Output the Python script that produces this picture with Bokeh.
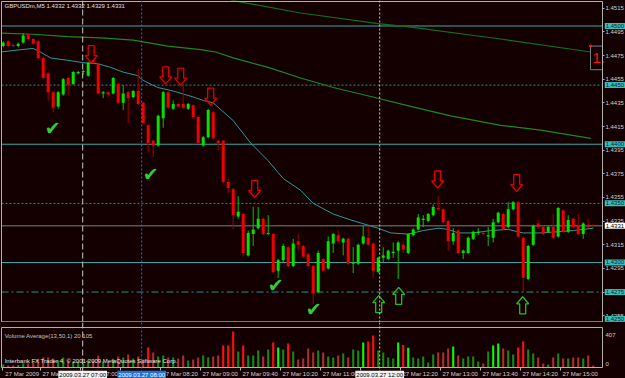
from bokeh.plotting import figure
from bokeh.layouts import column
from bokeh.models import Range1d, FixedTicker, PrintfTickFormatter, Label, Span, ColumnDataSource, LinearAxis
from bokeh.embed import file_html
from bokeh.resources import INLINE
from bokeh.core.properties import value

# ---------------- data ----------------
title_text = "GBPUSDm,M5  1.4332 1.4332 1.4329 1.4331"

opens = [1.4483, 1.4487, 1.4484, 1.4483, 1.4486, 1.4493, 1.4489, 1.4487, 1.4473, 1.4460,
         1.4444, 1.4432, 1.4442, 1.4456, 1.4451, 1.4460, 1.4461, 1.4458, 1.4471, 1.4468,
         1.4443, 1.4444, 1.4443, 1.4451, 1.4435, 1.4444, 1.4440, 1.4445, 1.4435, 1.4416,
         1.4403, 1.4399, 1.4422, 1.4444, 1.4430, 1.4434, 1.4434, 1.4430, 1.4433, 1.4423,
         1.4399, 1.4406, 1.4427, 1.4403, 1.4403, 1.4368, 1.4362, 1.4339, 1.4341, 1.4306,
         1.4324, 1.4329, 1.4337, 1.4324, 1.4324, 1.4293, 1.4302, 1.4313, 1.4297, 1.4318,
         1.4314, 1.4307, 1.4297, 1.4275, 1.4303, 1.4295, 1.4316, 1.4323, 1.4317, 1.4320,
         1.4299, 1.4299, 1.4316, 1.4321, 1.4316, 1.4292, 1.4304, 1.4303, 1.4308, 1.4310,
         1.4315, 1.4308, 1.4323, 1.4328, 1.4336, 1.4335, 1.4340, 1.4346, 1.4345, 1.4335,
         1.4318, 1.4327, 1.4308, 1.4308, 1.4320, 1.4325, 1.4325, 1.4322, 1.4321, 1.4334,
         1.4341, 1.4330, 1.4345, 1.4351, 1.4321, 1.4286, 1.4315, 1.4333, 1.4330, 1.4326,
         1.4330, 1.4322, 1.4344, 1.4326, 1.4337, 1.4331, 1.4324, 1.4332, 1.4332]
highs = [1.4487, 1.4488, 1.4485, 1.4486, 1.4494, 1.4494, 1.4490, 1.4488, 1.4474, 1.4461,
         1.4445, 1.4445, 1.4456, 1.4457, 1.4462, 1.4462, 1.4463, 1.4470, 1.4472, 1.4469,
         1.4445, 1.4445, 1.4457, 1.4452, 1.4450, 1.4445, 1.4446, 1.4464, 1.4436, 1.4417,
         1.4404, 1.4425, 1.4445, 1.4445, 1.4437, 1.4435, 1.4451, 1.4435, 1.4434, 1.4424,
         1.4407, 1.4430, 1.4428, 1.4404, 1.4404, 1.4371, 1.4363, 1.4356, 1.4342, 1.4327,
         1.4347, 1.4347, 1.4338, 1.4340, 1.4325, 1.4303, 1.4316, 1.4314, 1.4320, 1.4324,
         1.4315, 1.4308, 1.4298, 1.4310, 1.4304, 1.4322, 1.4325, 1.4327, 1.4321, 1.4321,
         1.4313, 1.4316, 1.4331, 1.4331, 1.4317, 1.4305, 1.4313, 1.4311, 1.4317, 1.4318,
         1.4318, 1.4325, 1.4329, 1.4341, 1.4340, 1.4342, 1.4349, 1.4356, 1.4346, 1.4336,
         1.4329, 1.4328, 1.4311, 1.4322, 1.4327, 1.4329, 1.4326, 1.4330, 1.4337, 1.4343,
         1.4342, 1.4351, 1.4352, 1.4352, 1.4322, 1.4315, 1.4332, 1.4336, 1.4331, 1.4331,
         1.4341, 1.4347, 1.4345, 1.4340, 1.4338, 1.4341, 1.4334, 1.4337, 1.4332]
lows = [1.4482, 1.4482, 1.4482, 1.4482, 1.4485, 1.4488, 1.4484, 1.4472, 1.4455, 1.4437,
        1.4427, 1.4430, 1.4441, 1.4441, 1.4450, 1.4459, 1.4459, 1.4457, 1.4468, 1.4442,
        1.4439, 1.4440, 1.4442, 1.4434, 1.4429, 1.4418, 1.4439, 1.4433, 1.4417, 1.4393,
        1.4389, 1.4398, 1.4414, 1.4430, 1.4429, 1.4431, 1.4430, 1.4429, 1.4422, 1.4400,
        1.4398, 1.4405, 1.4404, 1.4395, 1.4367, 1.4359, 1.4328, 1.4337, 1.4305, 1.4305,
        1.4314, 1.4328, 1.4323, 1.4323, 1.4291, 1.4287, 1.4300, 1.4296, 1.4296, 1.4310,
        1.4304, 1.4296, 1.4265, 1.4274, 1.4292, 1.4294, 1.4308, 1.4317, 1.4306, 1.4298,
        1.4291, 1.4298, 1.4315, 1.4314, 1.4287, 1.4291, 1.4300, 1.4302, 1.4304, 1.4286,
        1.4308, 1.4307, 1.4322, 1.4327, 1.4330, 1.4334, 1.4339, 1.4344, 1.4333, 1.4310,
        1.4315, 1.4307, 1.4303, 1.4307, 1.4319, 1.4323, 1.4323, 1.4314, 1.4317, 1.4333,
        1.4327, 1.4329, 1.4344, 1.4321, 1.4275, 1.4285, 1.4314, 1.4329, 1.4323, 1.4325,
        1.4320, 1.4321, 1.4325, 1.4325, 1.4329, 1.4323, 1.4320, 1.4329, 1.4329]
closes = [1.4486, 1.4483, 1.4483, 1.4485, 1.4492, 1.4489, 1.4485, 1.4473, 1.4456, 1.4444,
          1.4431, 1.4444, 1.4455, 1.4450, 1.4461, 1.4461, 1.4462, 1.4469, 1.4469, 1.4443,
          1.4444, 1.4442, 1.4456, 1.4435, 1.4443, 1.4439, 1.4445, 1.4434, 1.4418, 1.4401,
          1.4399, 1.4424, 1.4444, 1.4431, 1.4434, 1.4432, 1.4431, 1.4434, 1.4423, 1.4401,
          1.4406, 1.4429, 1.4405, 1.4401, 1.4368, 1.4363, 1.4340, 1.4343, 1.4308, 1.4325,
          1.4328, 1.4337, 1.4324, 1.4325, 1.4292, 1.4302, 1.4314, 1.4297, 1.4316, 1.4315,
          1.4305, 1.4297, 1.4274, 1.4308, 1.4293, 1.4318, 1.4324, 1.4318, 1.4320, 1.4299,
          1.4300, 1.4315, 1.4322, 1.4315, 1.4293, 1.4304, 1.4306, 1.4310, 1.4309, 1.4317,
          1.4311, 1.4324, 1.4328, 1.4338, 1.4337, 1.4341, 1.4347, 1.4345, 1.4334, 1.4318,
          1.4325, 1.4308, 1.4310, 1.4321, 1.4326, 1.4326, 1.4324, 1.4323, 1.4334, 1.4342,
          1.4328, 1.4345, 1.4351, 1.4322, 1.4287, 1.4314, 1.4331, 1.4330, 1.4324, 1.4330,
          1.4321, 1.4346, 1.4326, 1.4336, 1.4330, 1.4324, 1.4333, 1.4330, 1.4331]
volumes = [31, 20, 20, 25, 41, 41, 50, 82, 102, 102, 92, 71, 102, 71, 61, 61, 40, 80, 70, 120,
           60, 50, 90, 112, 102, 133, 92, 112, 82, 204, 153, 112, 122, 102, 102, 92, 122, 71, 82, 102,
           122, 104, 112, 122, 224, 224, 367, 163, 224, 122, 122, 173, 112, 183, 255, 204, 183, 245, 163, 82,
           92, 194, 153, 173, 153, 112, 102, 122, 143, 102, 183, 173, 255, 265, 326, 173, 153, 102, 92, 255,
           230, 200, 102, 92, 112, 51, 133, 153, 153, 194, 214, 122, 92, 112, 112, 61, 41, 163, 224, 245,
           194, 173, 133, 204, 265, 183, 143, 102, 41, 31, 102, 143, 92, 92, 102, 102, 92, 122, 20]

ma_fast_bar = [-0.5, 3.5, 6, 7, 9.5, 12.9, 16, 19, 21.5, 24, 26.9, 28, 30.9, 34, 38, 40, 42, 46, 49.5,
               53, 56, 59.5, 62, 66, 69.5, 75, 77.5, 81, 84, 87, 89, 91, 94, 97.5, 101, 104, 107.5,
               111, 114, 118]
ma_fast_val = [1.4478, 1.4480, 1.4481, 1.4479, 1.4473, 1.4471, 1.4469, 1.4468, 1.4465, 1.4461,
               1.4458, 1.4454, 1.4448, 1.4445, 1.4440, 1.4437, 1.4435, 1.4420, 1.4401, 1.4386,
               1.4371, 1.4361, 1.4350, 1.4341, 1.4336, 1.4329, 1.4325, 1.4324, 1.4327, 1.4329,
               1.4328, 1.4325, 1.4325, 1.4327, 1.4328, 1.4325, 1.4325, 1.4326, 1.4327, 1.4329]
ma_mid_bar = [-0.5, 6, 12.9, 19.5, 26, 32.9, 39.5, 42.5, 46, 53, 59.5, 66, 72.9, 81.5, 89.5, 99.5,
              107.5, 117.5]
ma_mid_val = [1.4494, 1.4493, 1.4491, 1.4490, 1.4488, 1.4483, 1.4480, 1.4478, 1.4473, 1.4465,
              1.4456, 1.4448, 1.4441, 1.4432, 1.4424, 1.4416, 1.4412, 1.4405]
ma_slow_bar = [45.5, 47.9, 59.5, 75, 81.5, 99.5, 117.5]
ma_slow_val = [1.4522, 1.4520, 1.4511, 1.4502, 1.4499, 1.4489, 1.4478]

level_prices = [1.4500, 1.4450, 1.4400, 1.4350, 1.4300, 1.4275, 1.4250]
level_dash = ["solid", "2 2", "solid", "2 2", "solid", "7 3 2 3", "solid"]
bid_price = 1.4331

price_ticks = [1.4515, 1.4495, 1.4475, 1.4455, 1.4435, 1.4415, 1.4395, 1.4375, 1.4355,
               1.4335, 1.4315, 1.4295, 1.4275, 1.4255]

time_ticks = [-0.1, 7.5, 15.5, 23.5, 31.5, 39.5, 47.5, 55.5, 63.5, 71.5, 79.5, 87.5, 95.5,
              103.5, 111.5]
time_labels = ["27 Mar 2009", "27 Mar 06:20", "27 Mar 07:00", "27 Mar 07:40", "27 Mar 08:20",
               "27 Mar 09:00", "27 Mar 09:40", "27 Mar 10:20", "27 Mar 11:00", "27 Mar 11:40",
               "27 Mar 12:20", "27 Mar 13:00", "27 Mar 13:40", "27 Mar 14:20", "27 Mar 15:00"]

vline_bars = [15.9, 27.7, 75.3]
vline_labels = ["2009.03.27 07:00", "2009.03.27 08:00", "2009.03.27 12:00"]

sell_bars = [17.6, 32.5, 35.5, 41.5, 50.3, 86.9, 102.7]
sell_tips = [1.4469, 1.4451, 1.4450, 1.4433, 1.4355, 1.4363, 1.4360]
buy_bars = [75.1, 79.1, 103.9]
buy_tips = [1.4272, 1.4279, 1.4271]
check_bars = [9.9, 29.5, 54.5, 62.1]
check_prices = [1.4414, 1.4375, 1.4281, 1.4261]

ind_bar = 117.46
ind_top = 1.4483
ind_bottom = 1.4463
ind_text = "1."

vol_title = "Volume Average(13,50,1) 20 105"
vol_max = 407
copyright_text = "Interbank FX Trader 4, \u00a9 2001-2009 MetaQuotes Software Corp."

# ---------------- styling / geometry ----------------
BG = "#140000"
FONT = "Liberation Sans"
TXT = "#d0d0d0"
GRAY = "#b0b0b0"
TEAL = "#3aa8a8"
PX_U = 0.2            # bar units per pixel
PX_P = 1 / 11825.0    # price per pixel
VPP = vol_max / 40.0  # volume per pixel
LABEL_SHIFT = 19.5 * PX_U

XL, XR = -0.54, 124.46           # whole canvas width
FRAME_L, FRAME_R = -0.34, 119.86  # chart area borders
PT, PB = 1.452156, 1.424926       # main canvas top / bottom
P_TOP, P_BOT = 1.452072, 1.424960

bars = list(range(len(opens)))
up = [c >= o for o, c in zip(opens, closes)]
src = ColumnDataSource(dict(
    x=bars,
    top=[max(o, c) for o, c in zip(opens, closes)],
    bottom=[min(o, c) for o, c in zip(opens, closes)],
    high=highs, low=lows,
    body=["#00e400" if u else "#f00000" for u in up],
    wick=["#00c800" if u else "#a00000" for u in up],
    vol=volumes,
    vcol=[("#00ff00" if u else "#ff1010") if v >= 200 else ("#138a13" if u else "#a83030")
          for u, v in zip(up, volumes)],
))


def plain_axis(loc, bounds):
    return LinearAxis(fixed_location=loc, bounds=bounds, ticker=FixedTicker(ticks=[]),
                      axis_line_color=GRAY, major_tick_line_color=None, minor_tick_line_color=None,
                      major_label_text_color=None)


x_range = Range1d(XL, XR)

p = figure(width=625, height=322, x_range=x_range, y_range=Range1d(PB, PT),
           output_backend="svg", toolbar_location=None,
           x_axis_location=None, y_axis_location=None, min_border=0,
           background_fill_color=BG, border_fill_color=BG, outline_line_color=None)
p.grid.visible = False

ax = LinearAxis(fixed_location=FRAME_R, bounds=(P_BOT, P_TOP), ticker=FixedTicker(ticks=price_ticks),
                formatter=PrintfTickFormatter(format="%.4f"), axis_line_color=GRAY,
                major_tick_out=2, major_tick_in=0, major_tick_line_color=GRAY,
                minor_tick_line_color=None, major_label_standoff=1,
                major_label_text_font=FONT, major_label_text_font_size="6px",
                major_label_text_color=TXT)
p.add_layout(ax, "right")
p.add_layout(plain_axis(FRAME_L, (P_BOT, P_TOP)), "left")
p.add_layout(plain_axis(P_TOP, (FRAME_L, FRAME_R)), "above")
p.add_layout(plain_axis(P_BOT, (FRAME_L, FRAME_R)), "below")

for lv, ds in zip(level_prices, level_dash):
    col = TEAL if ds == "solid" else "#2a8e8e"
    p.segment(x0=[FRAME_L], x1=[FRAME_R], y0=[lv], y1=[lv], line_color=col, line_width=1, line_dash=ds)
p.segment(x0=[FRAME_L], x1=[FRAME_R], y0=[bid_price], y1=[bid_price], line_color="#6f8585", line_width=1)

vstyles = [("#c8c8c8", "6 3"), ("#1f70d8", "2 2"), ("#c8c8c8", "2 2")]
def add_vlines(fig):
    for vb, (vc, vd) in zip(vline_bars, vstyles):
        fig.add_layout(Span(location=vb, dimension="height", line_color=vc, line_width=1, line_dash=vd))
add_vlines(p)

p.line(ma_slow_bar, ma_slow_val, line_color="#137013", line_width=1.2)
p.line(ma_mid_bar, ma_mid_val, line_color="#1b8a1b", line_width=1.2)
p.line(ma_fast_bar, ma_fast_val, line_color="#2a9a9a", line_width=1)

p.segment(x0="x", y0="low", x1="x", y1="high", line_color="wick", line_width=1, source=src)
p.vbar(x="x", top="top", bottom="bottom", width=0.6, fill_color="body", line_color=None, source=src)

def arrow(u, tip, down):
    sw, hw, hh, L = 3, 6, 7, 17
    pts = [(0, 0), (-hw, hh), (-sw, hh), (-sw, L), (sw, L), (sw, hh), (hw, hh)]
    s = 1 if down else -1
    return [u + dx * PX_U for dx, dy in pts], [tip + s * dy * PX_P for dx, dy in pts]

sx, sy = zip(*[arrow(u, t, True) for u, t in zip(sell_bars, sell_tips)])
p.patches(list(sx), list(sy), fill_color=None, line_color="#e00000", line_width=1.3)
bx, by = zip(*[arrow(u, t, False) for u, t in zip(buy_bars, buy_tips)])
p.patches(list(bx), list(by), fill_color=None, line_color="#22c022", line_width=1.3)

p.text(x=check_bars, y=check_prices, text=["\u2714"] * len(check_bars),
       text_font=value("DejaVu Sans"), text_font_size="19px",
       text_color="#33cc33", text_align="center", text_baseline="middle")

p.quad(left=[ind_bar], right=[FRAME_R], top=[ind_top], bottom=[ind_bottom],
       fill_color=None, line_color="#708080", line_width=1)
p.text(x=[ind_bar + 0.4], y=[(ind_top + ind_bottom) / 2], text=[ind_text],
       text_font=value(FONT), text_font_size="15px", text_color="#ff1010",
       text_align="left", text_baseline="middle")
p.scatter(x=[ind_bar], y=[ind_top], size=2, color="#ff2020")

p.add_layout(Label(x=0.26, y=1.45193, text=title_text, text_font=FONT, text_font_size="6px",
                   text_color="#e0e0e0", text_baseline="top", text_align="left"))

box_x = FRAME_R + 0.45
for lv in level_prices:
    # the lowest box sits on the bottom edge: anchor it by its bottom so it stays inside
    at_edge = lv - PB < 4 * PX_P
    p.add_layout(Label(x=box_x, y=(PB + 0.6 * PX_P) if at_edge else lv, text="%.4f" % lv,
                       text_font=FONT, text_font_size="6px",
                       text_color="#062828", text_baseline="bottom" if at_edge else "middle",
                       text_align="left", background_fill_color="#3cbcbc", padding=1))
p.add_layout(Label(x=box_x, y=bid_price, text="%.4f" % bid_price, text_font=FONT,
                   text_font_size="6px", text_color="#000000", text_baseline="middle",
                   text_align="left", background_fill_color="#ffffff", padding=1))

# ---------------- volume panel ----------------
v = figure(width=625, height=56, x_range=x_range, y_range=Range1d(-11 * VPP, vol_max + 5 * VPP),
           output_backend="svg", toolbar_location=None,
           x_axis_location=None, y_axis_location=None, min_border=0,
           background_fill_color=BG, border_fill_color=BG, outline_line_color=None)
v.grid.visible = False
add_vlines(v)
v.vbar(x="x", top="vol", bottom=0, width=0.42, fill_color="vcol", line_color=None, source=src)

v.add_layout(plain_axis(FRAME_L, (0, vol_max)), "left")
v.add_layout(plain_axis(FRAME_R, (0, vol_max)), "right")
v.add_layout(plain_axis(vol_max, (FRAME_L, FRAME_R)), "above")

tax = LinearAxis(fixed_location=0, bounds=(FRAME_L, FRAME_R), ticker=FixedTicker(ticks=time_ticks),
                 major_label_text_color=None, axis_line_color=GRAY, major_tick_out=3,
                 major_tick_in=0, major_tick_line_color=GRAY, minor_tick_line_color=None)
v.add_layout(tax, "below")
label_ticks = [t + LABEL_SHIFT for t in time_ticks]
lax = LinearAxis(fixed_location=0, ticker=FixedTicker(ticks=label_ticks),
                 major_label_overrides={t: l for t, l in zip(label_ticks, time_labels)},
                 axis_line_color=None, major_tick_out=0, major_tick_in=0,
                 major_tick_line_color=None, minor_tick_line_color=None,
                 major_label_standoff=3, major_label_text_font=FONT,
                 major_label_text_font_size="6px", major_label_text_color=TXT)
v.add_layout(lax, "below")

v.add_layout(Label(x=0.3, y=vol_max - 8 * VPP, text=vol_title, text_font=FONT, text_font_size="6px",
                   text_color="#c0c0c0", text_baseline="middle", text_align="left"))
v.add_layout(Label(x=0.3, y=7 * VPP, text=copyright_text, text_font=FONT, text_font_size="6px",
                   text_color="#e8e8e8", text_baseline="middle", text_align="left"))
v.add_layout(Label(x=FRAME_R + 0.6, y=vol_max - 7 * VPP, text=str(vol_max), text_font=FONT,
                   text_font_size="6px", text_color=TXT, text_baseline="middle", text_align="left"))
v.add_layout(Label(x=FRAME_R + 0.6, y=4 * VPP, text="0", text_font=FONT,
                   text_font_size="6px", text_color=TXT, text_baseline="middle", text_align="left"))

box_styles = [("#f0f0f0", "#000000"), ("#1f70d8", "#ffffff"), ("#f0f0f0", "#000000")]
for vb, vl, (bgc, tc) in zip(vline_bars, vline_labels, box_styles):
    v.add_layout(Label(x=vb, y=-3.2 * VPP, text=vl, text_font=FONT, text_font_size="6px",
                       text_color=tc, text_baseline="top", text_align="center",
                       background_fill_color=bgc, padding=1))

layout = column(p, v, spacing=0, styles={"background-color": BG})
open("out.html", "w").write(file_html(layout, INLINE))
